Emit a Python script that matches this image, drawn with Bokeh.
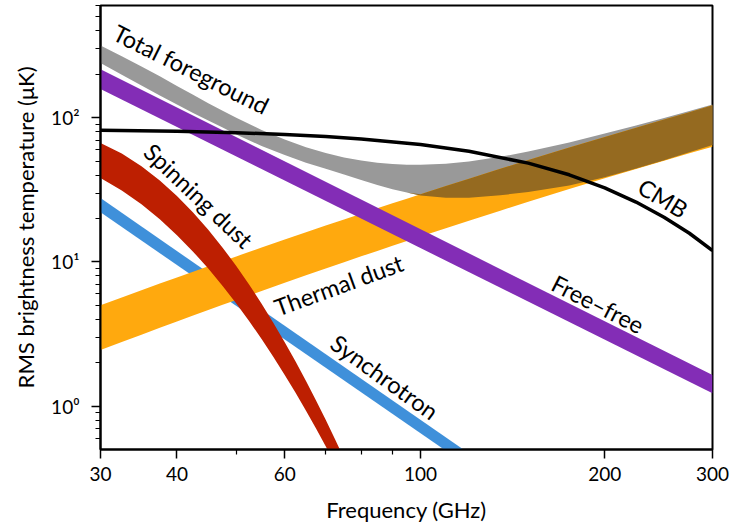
import numpy as np
from bokeh.plotting import figure
from bokeh.models import FixedTicker, NumeralTickFormatter, Label
from bokeh.embed import file_html
from bokeh.resources import INLINE

# ---- foreground components: RMS brightness temperature (uK) vs frequency (GHz)
# free-free (power law, upper / lower edge of the band)
freq_ff = [30, 300]
ff_hi = [217, 1.64]
ff_lo = [158, 1.23]

# synchrotron (power law)
freq_sync = [30, 120]
sync_hi = [27.7, 0.47]
sync_lo = [22.1, 0.38]

# spinning (anomalous microwave) dust
freq_ame = [30, 32.5, 35, 37.5, 40, 42.5, 45, 47.5, 50, 52.5,
            55, 57.5, 60, 62.5, 65, 67.5, 70, 72.5, 75]
ame_hi = [66.7, 56.42, 46.14, 36.75, 28.68, 22.03, 16.71, 12.56, 9.363, 6.944,
          5.129, 3.776, 2.776, 2.037, 1.494, 1.095, 0.804, 0.590, 0.433]
ame_lo = [38.12, 31.26, 25.07, 19.73, 15.32, 11.78, 8.984, 6.813, 5.148, 3.879,
          2.917, 2.192, 1.646, 1.237, 0.930, 0.700, 0.527, 0.398, 0.302]

# thermal dust and total foreground share one frequency grid
freq_grid = [30, 32.5, 35, 37.5, 40, 42.5, 45, 47.5, 50, 55, 60, 65, 70, 75,
             80, 85, 90, 95, 100, 110, 120, 135, 150, 175, 200, 225, 250, 275, 300]
dust_hi = [5.00, 5.67, 6.36, 7.07, 7.80, 8.56, 9.33, 10.11, 10.92, 12.57, 14.29,
           16.04, 17.85, 19.70, 21.59, 23.51, 25.47, 27.46, 29.47, 33.57, 37.78,
           44.23, 50.82, 62.10, 73.59, 85.33, 97.23, 109.2, 122.0]
dust_lo = [2.45, 2.78, 3.13, 3.49, 3.86, 4.25, 4.64, 5.04, 5.45, 6.29, 7.17,
           8.07, 9.00, 9.95, 10.93, 11.92, 12.93, 13.96, 15.00, 17.13, 19.31,
           22.66, 26.10, 31.97, 38.00, 44.14, 50.33, 56.61, 63.0]
tot_hi = [316.2, 266.8, 226.6, 193.8, 166.2, 144.3, 126.1, 111.7, 99.8, 82.3,
          70.6, 62.5, 56.9, 53.0, 50.4, 48.7, 47.7, 47.2, 47.1, 48.0, 49.7, 53.5,
          58.2, 67.4, 77.6, 88.4, 99.7, 111.2, 123.7]
tot_lo = [239.1, 198.5, 167.2, 142.6, 123.3, 108.0, 95.6, 85.4, 76.5, 63.7,
          55.2, 48.8, 44.2, 40.4, 37.0, 34.2, 31.9, 30.3, 28.9, 27.9, 27.9, 29.0,
          30.5, 33.9, 38.7, 44.4, 50.7, 57.6, 64.6]

# CMB anisotropy RMS in Rayleigh-Jeans units
freq_cmb = [30, 40, 50, 60, 70, 80, 100, 120, 150, 175, 200, 225, 250, 275, 300]
cmb = [82, 80.5, 78.7, 76.5, 74.0, 71.3, 65.2, 58.5, 48.4, 40.2, 32.6, 26.0, 20.4, 15.8, 12.0]

# axis ticks
x_major = [30, 40, 60, 100, 200, 300]
x_minor = [50, 70, 80, 90]
y_major = [1, 10, 100]
y_major_labels = ["10⁰", "10¹", "10²"]
y_minor = [0.6, 0.7, 0.8, 0.9, 2, 3, 4, 5, 6, 7, 8, 9,
           20, 30, 40, 50, 60, 70, 80, 90, 200, 300, 400, 500, 600]

# colours
C_FF = "#832db6"
C_SYNC = "#3f90da"
C_AME = "#bd1f01"
C_DUST = "#ffa90e"
C_TOT = "#999999"
C_OVERLAP = "#956a20"

FONT = "Lato"

p = figure(width=730, height=529,
           x_axis_type="log", y_axis_type="log",
           x_range=(30, 300), y_range=(0.5, 600),
           output_backend="svg", toolbar_location=None,
           min_border_left=100, min_border_right=18,
           min_border_top=5, min_border_bottom=80)

p.xgrid.visible = False
p.ygrid.visible = False
p.outline_line_color = "black"
p.outline_line_width = 2
p.outline_line_alpha = 1.0
p.background_fill_color = "white"
p.border_fill_color = "white"

# bands
p.varea(x=freq_sync, y1=sync_lo, y2=sync_hi, color=C_SYNC)
p.varea(x=freq_grid, y1=tot_lo, y2=tot_hi, color=C_TOT)
p.varea(x=freq_grid, y1=dust_lo, y2=dust_hi, color=C_DUST)

# region where the total-foreground and thermal-dust bands overlap
th, tl = np.array(tot_hi), np.array(tot_lo)
dh, dl = np.array(dust_hi), np.array(dust_lo)
ov_hi = np.minimum(th, dh)
ov_lo = np.maximum(tl, dl)
ov_hi = np.where(ov_hi > ov_lo, ov_hi, ov_lo)
p.varea(x=freq_grid, y1=ov_lo, y2=ov_hi, color=C_OVERLAP)

p.varea(x=freq_ff, y1=ff_lo, y2=ff_hi, color=C_FF)
p.varea(x=freq_ame, y1=ame_lo, y2=ame_hi, color=C_AME)

p.line(freq_cmb, cmb, line_color="black", line_width=3.5)

# in-plot labels
labels = [
    ("Total foreground", 42.2, 217, -26.5),
    ("Spinning dust", 43.4, 28.8, -43.5),
    ("Thermal dust", 73.5, 6.9, 20),
    ("Synchrotron", 87.4, 1.59, -36),
    ("Free–free", 195, 5.1, -27),
    ("CMB", 249, 27.7, -31),
]
for txt, lx, ly, ang in labels:
    p.add_layout(Label(x=lx, y=ly, text=txt, angle=ang, angle_units="deg",
                       text_align="center", text_baseline="middle",
                       text_font=FONT, text_font_size="23.5px",
                       text_color="black"))

# axes
p.xaxis.ticker = FixedTicker(ticks=x_major, minor_ticks=x_minor)
p.xaxis.formatter = NumeralTickFormatter(format="0")
p.yaxis.ticker = FixedTicker(ticks=y_major, minor_ticks=y_minor)
p.yaxis.major_label_overrides = dict(zip(y_major, y_major_labels))

p.xaxis.axis_label = "Frequency (GHz)"
p.yaxis.axis_label = "RMS brightness temperature (μK)"

for ax in (p.xaxis, p.yaxis):
    ax.axis_line_width = 2
    ax.axis_line_color = "black"
    ax.major_tick_in = 0
    ax.major_tick_out = 9
    ax.minor_tick_in = 0
    ax.minor_tick_out = 5
    ax.major_tick_line_width = 1.5
    ax.minor_tick_line_width = 1.2
    ax.major_tick_line_color = "black"
    ax.minor_tick_line_color = "black"
    ax.major_label_text_font = FONT
    ax.major_label_text_font_size = "19px"
    ax.major_label_text_color = "black"
    ax.axis_label_text_font = FONT
    ax.axis_label_text_font_size = "22px"
    ax.axis_label_text_font_style = "normal"
    ax.axis_label_text_color = "black"

p.xaxis.major_label_standoff = 8
p.xaxis.axis_label_standoff = 12
p.yaxis.major_label_standoff = 12
p.yaxis.axis_label_standoff = 9

open("out.html", "w").write(file_html(p, INLINE))
